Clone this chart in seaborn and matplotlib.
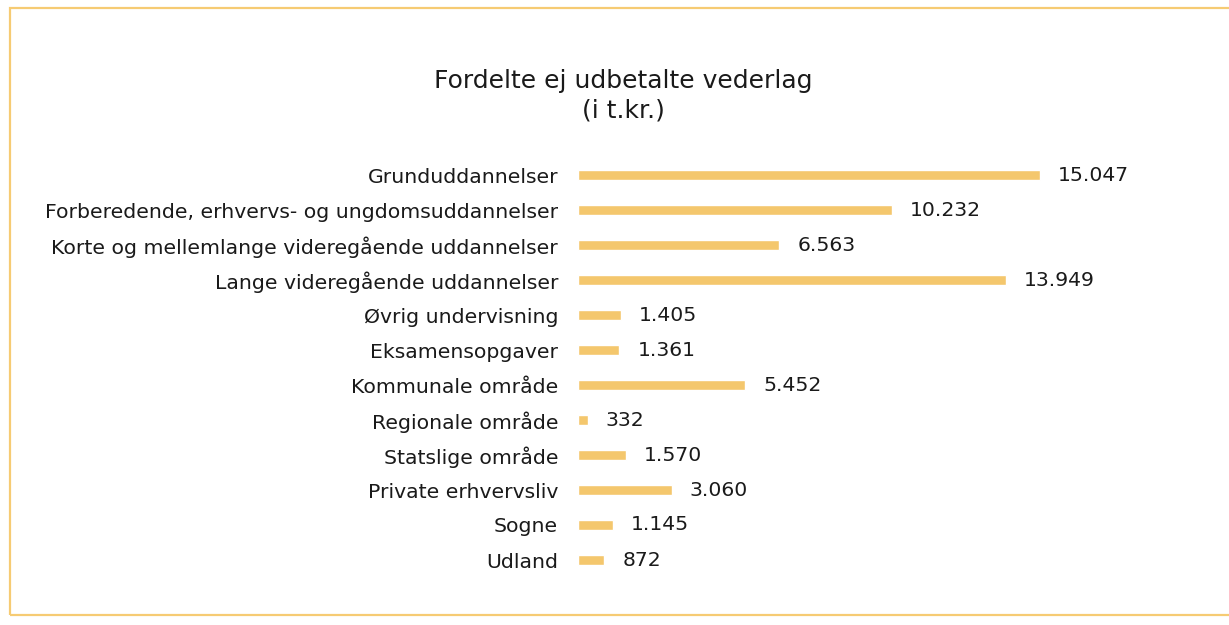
import matplotlib
matplotlib.use("Agg")
import matplotlib.pyplot as plt
import pandas as pd
import seaborn as sns
from matplotlib.patches import Rectangle

categories = [
    "Grunduddannelser",
    "Forberedende, erhvervs- og ungdomsuddannelser",
    "Korte og mellemlange videregående uddannelser",
    "Lange videregående uddannelser",
    "Øvrig undervisning",
    "Eksamensopgaver",
    "Kommunale område",
    "Regionale område",
    "Statslige område",
    "Private erhvervsliv",
    "Sogne",
    "Udland",
]
values = [15047, 10232, 6563, 13949, 1405, 1361, 5452, 332, 1570, 3060, 1145, 872]

title = "Fordelte ej udbetalte vederlag\n(i t.kr.)"
bar_color = "#F4C76D"

sns.set_theme(style="white")
plt.rcParams["font.family"] = ["DejaVu Sans"]

df = pd.DataFrame({"kategori": categories, "vaerdi": values})

fig = plt.figure(figsize=(12.29, 6.25), dpi=100)
ax = fig.add_axes([0.470, 0.076, 0.50, 0.672])

sns.barplot(data=df, x="vaerdi", y="kategori", color=bar_color, width=0.3,
            saturation=1, ax=ax)

ax.set_xlim(0, 20000)
ax.set_ylim(len(categories) - 0.5, -0.5)
ax.set_xlabel("")
ax.set_ylabel("")
ax.set_xticks([])
for s in ax.spines.values():
    s.set_visible(False)
ax.tick_params(axis="y", length=0, pad=14, labelsize=14.7, labelcolor="#1a1a1a")

for i, v in enumerate(values):
    label = f"{v:,}".replace(",", ".")
    ax.annotate(label, (v, i), xytext=(13, 0), textcoords="offset points",
                va="center", ha="left", fontsize=14.7, color="#1a1a1a")

fig.text(0.507, 0.847, title, ha="center", va="center", fontsize=18,
         color="#1a1a1a", linespacing=1.3)

# frame around the chart
fig.patches.append(Rectangle((0.008, 0.016), 1.2, 0.971, transform=fig.transFigure,
                             fill=False, edgecolor="#F6CB73", linewidth=1.6))

fig.savefig("out.png", dpi=100)
